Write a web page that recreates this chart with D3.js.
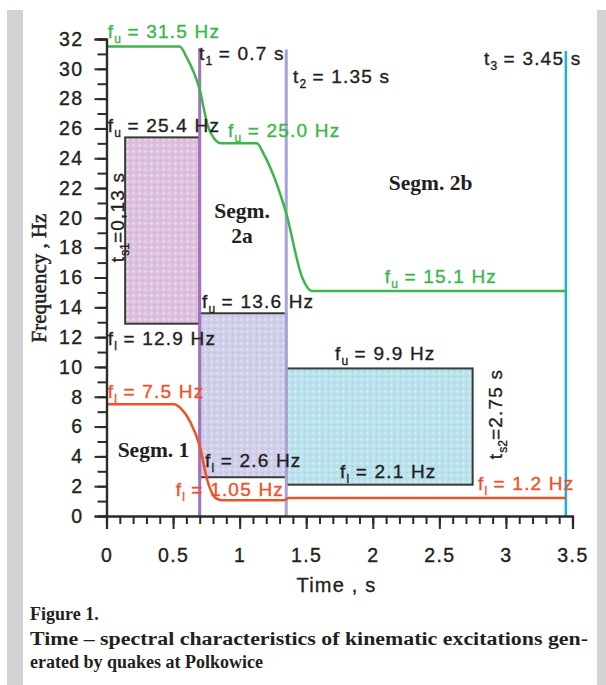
<!DOCTYPE html>
<html>
<head>
<meta charset="utf-8">
<script src="https://cdn.jsdelivr.net/npm/d3@7"></script>
<style>
  html, body { margin: 0; padding: 0; background: #fff; }
  svg { display: block; }
  .lbl { font-family: "Liberation Sans", Arial, sans-serif; font-size: 19px; letter-spacing: 1.2px; stroke-width: 0.35px; }
  .seg { font-family: "Liberation Serif", "Times New Roman", serif; font-size: 21.5px; font-weight: bold; fill: #231f20; }
  .cap { font-family: "Liberation Serif", "Times New Roman", serif; font-size: 18px; font-weight: bold; fill: #231f20; }
</style>
</head>
<body>
<div id="chart"></div>
<script>
(function(d3) {

    "use strict";

    // axis ticks
    var timeMajor = [0, 0.5, 1, 1.5, 2, 2.5, 3, 3.5];
    var timeLabels = ["0", "0.5", "1", "1.5", "2", "2.5", "3", "3.5"];
    var freqMajor = [0, 2, 4, 6, 8, 10, 12, 14, 16, 18, 20, 22, 24, 26, 28, 30, 32];
    var freqLabels = ["0", "2", "4", "6", "8", "10", "12", "14", "16", "18", "20", "22", "24", "26", "28", "30", "32"];

    // upper frequency f_u (green)
    var upperT = [0, 0.55, 0.6, 0.7, 0.76, 0.82, 0.86, 1.13, 1.18, 1.35, 1.47, 1.54, 3.45];
    var upperF = [31.5, 31.5, 30.8, 28.6, 26.2, 25.2, 25.0, 25.0, 24.3, 20.3, 16.0, 15.1, 15.1];

    // lower frequency f_l (red)
    var lowerT = [0, 0.51, 0.56, 0.63, 0.7, 0.76, 0.82, 0.87, 1.33, 1.37, 3.45];
    var lowerF = [7.5, 7.5, 7.2, 6.3, 4.7, 2.3, 1.2, 1.05, 1.05, 1.2, 1.2];

    // segment boxes
    var boxNames = ["s1", "s2a", "s2b"];
    var boxT0 = [0.14, 0.7, 1.35];
    var boxT1 = [0.7, 1.35, 2.75];
    var boxF0 = [12.9, 2.6, 2.1];
    var boxF1 = [25.4, 13.6, 9.9];

    // time markers t1, t2, t3
    var markerT = [0.7, 1.35, 3.45];
    var markerTop = [31.4, 31.3, 31.2];

    // annotations: [main, sub, rest], anchored in data units
    var noteText = [
        ["f", "u", " = 31.5 Hz"], ["t", "1", " = 0.7 s"], ["t", "2", " = 1.35 s"], ["t", "3", " = 3.45 s"],
        ["f", "u", " = 25.4 Hz"], ["f", "u", " = 25.0 Hz"], ["f", "u", " = 15.1 Hz"], ["f", "u", " = 13.6 Hz"],
        ["f", "l", " = 12.9 Hz"], ["f", "u", " = 9.9 Hz"], ["f", "l", " = 7.5 Hz"], ["f", "l", " = 2.6 Hz"],
        ["f", "l", " = 1.05 Hz"], ["f", "l", " = 2.1 Hz"], ["f", "l", " = 1.2 Hz"]
    ];
    var noteT = [0.01, 0.695, 1.40, 2.835, 0.01, 0.913, 2.09, 0.717, 0.01, 1.716, 0.01, 0.74, 0.52, 1.754, 2.79];
    var noteF = [32.05, 30.6, 29.05, 30.26, 25.76, 25.43, 15.63, 13.95, 11.47, 10.47, 7.92, 3.29, 1.34, 2.55, 1.74];
    var noteKind = ["u", "k", "k", "k", "k", "u", "u", "k", "k", "k", "l", "k", "l", "k", "l"];

    var segText = [["Segm. 2b"], ["Segm.", "2a"], ["Segm. 1"]];
    var segT = [2.434, 1.018, 0.353];
    var segF = [21.87, 19.99, 3.96];

    var captionLines = [
        "Figure 1.",
        "Time \u2013 spectral characteristics of kinematic excitations gen-",
        "erated by quakes at Polkowice"
    ];

    var width = 606, height = 685;
    var x = d3.scaleLinear().domain([0, 3.5]).range([106.5, 572.5]);
    var y = d3.scaleLinear().domain([0, 32]).range([516, 39]);

    var colors = {
        upper: "#3cb64b",
        lower: "#f0502a",
        ink: "#231f20",
        axis: "#2b2b2b",
        band: "#d1d2d4",
        marker: ["#a66fbd", "#a4a4d6", "#1ab4cc"],
        box: { s1: "#dcc1dc", s2a: "#cfcfe9", s2b: "#b9e2ec" },
        dot: { s1: "#a877a8", s2a: "#8f8fc6", s2b: "#4fb8d0" }
    };

    var svg = d3.select("#chart").append("svg")
        .attr("width", width)
        .attr("height", height);

    // grey page bands
    svg.append("rect").attr("x", 7).attr("y", 10).attr("width", 16).attr("height", height - 10).attr("fill", colors.band);
    svg.append("rect").attr("x", 597).attr("y", 10).attr("width", 9).attr("height", height - 10).attr("fill", colors.band);

    // dotted fills for the segment boxes
    var defs = svg.append("defs");
    boxNames.forEach(function(name) {
        var p = defs.append("pattern")
            .attr("id", "pat-" + name)
            .attr("patternUnits", "userSpaceOnUse")
            .attr("width", 6).attr("height", 6);
        p.append("rect").attr("width", 6).attr("height", 6).attr("fill", colors.box[name]);
        p.append("circle").attr("cx", 1.5).attr("cy", 1.5).attr("r", 0.9).attr("fill", "#fff").attr("opacity", 0.7);
        p.append("circle").attr("cx", 4.5).attr("cy", 4.5).attr("r", 0.6).attr("fill", colors.dot[name]).attr("opacity", 0.6);
    });

    svg.selectAll("rect.box")
        .data(boxNames)
        .enter()
        .append("rect")
        .attr("class", "box")
        .attr("x", function(d, i) { return x(boxT0[i]); })
        .attr("y", function(d, i) { return y(boxF1[i]); })
        .attr("width", function(d, i) { return x(boxT1[i]) - x(boxT0[i]); })
        .attr("height", function(d, i) { return y(boxF0[i]) - y(boxF1[i]); })
        .attr("fill", function(d) { return "url(#pat-" + d + ")"; })
        .attr("stroke", "#3a3a3a")
        .attr("stroke-width", 2);

    // vertical time markers
    svg.selectAll("line.marker")
        .data(markerT)
        .enter()
        .append("line")
        .attr("class", "marker")
        .attr("x1", function(d) { return x(d); })
        .attr("x2", function(d) { return x(d); })
        .attr("y1", y(0))
        .attr("y2", function(d, i) { return y(markerTop[i]); })
        .attr("stroke", function(d, i) { return colors.marker[i]; })
        .attr("stroke-width", function(d, i) { return i === 2 ? 2.5 : 3; });

    // frequency curves
    var line = d3.line()
        .x(function(d) { return x(d[0]); })
        .y(function(d) { return y(d[1]); })
        .curve(d3.curveMonotoneX);

    svg.append("path")
        .datum(d3.zip(upperT, upperF))
        .attr("d", line)
        .attr("fill", "none")
        .attr("stroke", colors.upper)
        .attr("stroke-width", 2.5);

    svg.append("path")
        .datum(d3.zip(lowerT, lowerF))
        .attr("d", line)
        .attr("fill", "none")
        .attr("stroke", colors.lower)
        .attr("stroke-width", 2.5);

    // axes: minor ticks first, major (labelled) on top
    var xMinor = d3.axisBottom(x).tickValues(d3.range(0, 36).map(function(i) { return i / 10; }))
        .tickSize(8).tickFormat("");
    var xMajor = d3.axisBottom(x).tickValues(timeMajor).tickSize(13).tickPadding(19)
        .tickFormat(function(d, i) { return timeLabels[i]; });
    var yMinor = d3.axisLeft(y).tickValues(d3.range(0, 33)).tickSize(9).tickFormat("");
    var yMajor = d3.axisLeft(y).tickValues(freqMajor).tickSize(12).tickPadding(11)
        .tickFormat(function(d, i) { return freqLabels[i]; });

    [
        [xMinor, "translate(0," + y(0) + ")"],
        [xMajor, "translate(0," + y(0) + ")"],
        [yMinor, "translate(" + x(0) + ",0)"],
        [yMajor, "translate(" + x(0) + ",0)"]
    ].forEach(function(a) {
        var g = svg.append("g").attr("transform", a[1]).call(a[0]);
        g.select(".domain").attr("stroke", colors.axis).attr("stroke-width", 2.2);
        g.selectAll(".tick line").attr("stroke", colors.axis).attr("stroke-width", 2);
        g.selectAll(".tick text")
            .attr("fill", colors.ink)
            .attr("stroke", colors.ink)
            .attr("stroke-width", 0.35)
            .style("font-family", "Liberation Sans, Arial, sans-serif")
            .style("letter-spacing", "1.4px")
            .style("font-size", "19.5px");
    });

    // axis titles
    svg.append("text")
        .attr("class", "lbl")
        .attr("x", x(1.75) - 3)
        .attr("y", 592)
        .attr("text-anchor", "middle")
        .attr("fill", colors.ink)
        .attr("stroke", colors.ink)
        .style("font-size", "20px")
        .text("Time , s");

    svg.append("text")
        .attr("transform", "translate(46,278) rotate(-90)")
        .attr("text-anchor", "middle")
        .attr("fill", colors.ink)
        .attr("stroke", colors.ink)
        .attr("stroke-width", 0.5)
        .style("font-family", "Liberation Serif, Times New Roman, serif")
        .style("font-size", "21px")
        .text("Frequency , Hz");

    // annotations with subscripts
    var noteColor = { u: colors.upper, l: colors.lower, k: colors.ink };
    noteText.forEach(function(parts, i) {
        var t = svg.append("text")
            .attr("class", "lbl")
            .attr("x", x(noteT[i]))
            .attr("y", y(noteF[i]))
            .attr("fill", noteColor[noteKind[i]])
            .attr("stroke", noteColor[noteKind[i]]);
        t.append("tspan").text(parts[0]);
        t.append("tspan").attr("dy", 5).style("font-size", "12px").style("letter-spacing", "0px").text(parts[1]);
        t.append("tspan").attr("dy", -5).text(parts[2]);
    });

    // rotated duration labels
    function rotated(tx, fy, sub, rest) {
        var t = svg.append("text")
            .attr("class", "lbl")
            .attr("transform", "translate(" + x(tx) + "," + y(fy) + ") rotate(-90)")
            .attr("text-anchor", "middle")
            .attr("fill", colors.ink)
            .attr("stroke", colors.ink);
        t.append("tspan").text("t");
        t.append("tspan").attr("dy", 5).style("font-size", "12px").style("letter-spacing", "0px").text(sub);
        t.append("tspan").attr("dy", -5).text(rest);
    }
    rotated(0.13, 20.06, "s1", "=0,13 s");
    rotated(2.97, 6.84, "s2", "=2.75 s");

    // segment names
    segText.forEach(function(lines, i) {
        lines.forEach(function(s, j) {
            svg.append("text")
                .attr("class", "seg")
                .attr("x", x(segT[i]))
                .attr("y", y(segF[i]) + j * 25)
                .attr("text-anchor", "middle")
                .text(s);
        });
    });

    // caption; the middle line is set wider to reach the right edge
    svg.append("text").attr("class", "cap").attr("x", 30).attr("y", 620).text(captionLines[0]);
    svg.append("text").attr("class", "cap").attr("x", 30).attr("y", 645)
        .attr("textLength", 558)
        .attr("lengthAdjust", "spacingAndGlyphs")
        .text(captionLines[1]);
    svg.append("text").attr("class", "cap").attr("x", 30).attr("y", 668).text(captionLines[2]);

})(d3);
</script>
</body>
</html>
